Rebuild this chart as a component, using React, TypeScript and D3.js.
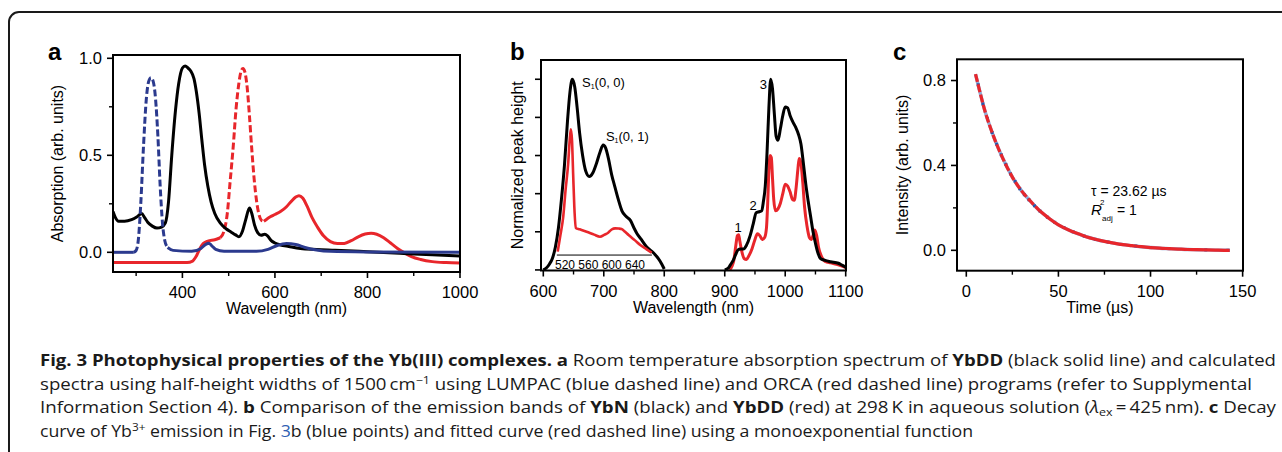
import React from 'react';
import * as d3 from 'd3';

type P = [number, number];

// ---------- Panel a : absorption ----------
const aXMajor = [400, 600, 800, 1000];
const aXMinor = [300, 500, 700, 900];
const aYMajor = [0, 0.5, 1.0];
const aYMinor = [0.25, 0.75];

const ybddAbs: P[] = [
  [250, 0.21], [255, 0.18], [262, 0.16], [275, 0.16], [290, 0.168], [303, 0.185], [312, 0.2], [318, 0.18],
  [325, 0.155], [335, 0.135], [345, 0.125], [355, 0.13], [363, 0.15], [370, 0.26], [377, 0.5], [385, 0.73],
  [392, 0.87], [400, 0.95], [406, 0.96], [412, 0.95], [418, 0.935], [425, 0.895], [430, 0.83], [436, 0.72],
  [442, 0.58], [448, 0.45], [455, 0.34], [462, 0.26], [470, 0.2], [482, 0.15], [495, 0.12], [505, 0.105],
  [515, 0.09], [522, 0.08], [530, 0.11], [537, 0.17], [545, 0.228], [550, 0.2], [556, 0.14], [563, 0.1],
  [570, 0.088], [578, 0.093], [584, 0.085], [592, 0.06], [600, 0.048], [612, 0.038], [630, 0.03], [655, 0.02],
  [690, 0.015], [730, 0.011], [800, 0.003], [870, -0.005], [940, -0.013], [1000, -0.019],
];
const lumpacAbs: P[] = [
  [250, 0], [295, 0], [300, 0.01], [305, 0.07], [310, 0.25], [316, 0.55], [322, 0.79], [327, 0.88], [332, 0.9],
  [337, 0.88], [342, 0.79], [347, 0.6], [352, 0.34], [357, 0.15], [362, 0.06], [368, 0.025], [380, 0.01],
  [420, 0.005], [440, 0.02], [450, 0.04], [457, 0.047], [463, 0.035], [472, 0.015], [490, 0.005], [560, 0.005],
  [585, 0.015], [605, 0.035], [625, 0.045], [645, 0.04], [665, 0.025], [690, 0.012], [720, 0.005], [800, 0.002],
  [1000, 0],
];
const lumpacDashed: P = [298, 368];
const orcaAbs: P[] = [
  [250, -0.052], [410, -0.052], [422, -0.045], [430, -0.02], [438, 0.02], [445, 0.045], [455, 0.058], [470, 0.065],
  [482, 0.075], [490, 0.11], [497, 0.2], [503, 0.36], [510, 0.55], [516, 0.74], [522, 0.87], [527, 0.935],
  [531, 0.948], [535, 0.93], [540, 0.85], [545, 0.7], [550, 0.53], [555, 0.38], [560, 0.27], [565, 0.2],
  [571, 0.165], [576, 0.16], [583, 0.172], [590, 0.183], [600, 0.195], [612, 0.21], [625, 0.235], [635, 0.262],
  [645, 0.285], [652, 0.292], [660, 0.28], [670, 0.235], [680, 0.18], [692, 0.13], [705, 0.085], [720, 0.055],
  [735, 0.045], [750, 0.046], [765, 0.06], [780, 0.08], [795, 0.094], [808, 0.098], [820, 0.093], [835, 0.075],
  [850, 0.048], [865, 0.02], [880, -0.003], [895, -0.022], [915, -0.037], [940, -0.048], [970, -0.053],
  [1000, -0.055],
];
const orcaDashed: P = [488, 572];

// ---------- Panel b : emission ----------
const bXMajor = [600, 700, 800, 900, 1000, 1100];
const bXMinor = [650, 750, 850, 950, 1050];
const bYMajor = [0, 0.2, 0.4, 0.6, 0.8, 1.0];
const ybnEmisVis: P[] = [
  [600, 0], [605, 0.01], [610, 0.03], [615, 0.06], [620, 0.12], [625, 0.22], [630, 0.37], [635, 0.55],
  [640, 0.78], [644, 0.93], [648, 1.0], [652, 0.96], [656, 0.85], [660, 0.72], [665, 0.6], [670, 0.52],
  [676, 0.49], [682, 0.51], [688, 0.56], [694, 0.62], [699, 0.655], [703, 0.64], [708, 0.58], [713, 0.5],
  [718, 0.44], [724, 0.37], [730, 0.31], [737, 0.28], [744, 0.26], [750, 0.22], [755, 0.19], [762, 0.16],
  [771, 0.12], [782, 0.09], [790, 0.06], [796, 0.03], [800, 0.005],
];
const ybnEmisNir: P[] = [
  [900, 0], [906, 0.01], [910, 0.03], [914, 0.05], [918, 0.08], [922, 0.105], [926, 0.11], [931, 0.11],
  [936, 0.13], [942, 0.18], [947, 0.24], [952, 0.3], [957, 0.305], [961, 0.31], [964, 0.36], [967, 0.44],
  [970, 0.62], [973, 0.85], [976, 1.0], [979, 0.95], [982, 0.82], [985, 0.7], [988, 0.68], [992, 0.74],
  [996, 0.81], [1000, 0.855], [1004, 0.85], [1008, 0.81], [1012, 0.78], [1017, 0.75], [1022, 0.71],
  [1026, 0.66], [1030, 0.56], [1034, 0.45], [1038, 0.36], [1042, 0.28], [1046, 0.2], [1050, 0.14],
  [1054, 0.09], [1058, 0.061], [1066, 0.05], [1075, 0.043], [1088, 0.035], [1094, 0.025], [1100, 0.015],
];
const ybddEmisNir: P[] = [
  [908, 0], [912, 0.02], [915, 0.05], [918, 0.12], [921, 0.18], [923, 0.185], [925, 0.15], [928, 0.1],
  [932, 0.06], [936, 0.055], [940, 0.075], [945, 0.11], [950, 0.16], [954, 0.19], [958, 0.18], [962, 0.16],
  [966, 0.17], [969, 0.22], [971, 0.35], [973, 0.52], [975, 0.6], [977, 0.59], [979, 0.48], [981, 0.37],
  [984, 0.31], [988, 0.32], [992, 0.35], [996, 0.4], [1000, 0.45], [1004, 0.44], [1008, 0.41], [1012, 0.37],
  [1015, 0.365], [1018, 0.43], [1021, 0.53], [1023, 0.585], [1026, 0.56], [1029, 0.46], [1032, 0.33],
  [1036, 0.23], [1040, 0.17], [1043, 0.16], [1046, 0.18], [1049, 0.21], [1052, 0.18], [1055, 0.12],
  [1060, 0.07], [1066, 0.045], [1075, 0.037], [1085, 0.03], [1094, 0.02], [1100, 0.012],
];
// inset (own wavelength axis 520–640 nm)
const insetXTicks = [520, 560, 600, 640];
const insetAxisLevel = 0.078;
const ybddEmisVis: P[] = [
  [507.5, 0.096], [512, 0.18], [517, 0.28], [521, 0.42], [525.5, 0.56], [528, 0.68], [530, 0.737], [532, 0.68],
  [534, 0.5], [536, 0.33], [538.5, 0.22], [545, 0.213], [557, 0.2], [570, 0.185], [580, 0.174], [588, 0.185],
  [594, 0.195], [600, 0.212], [606, 0.218], [612, 0.217], [617, 0.215], [623, 0.2], [629, 0.183], [640, 0.155],
  [649, 0.131], [660, 0.108], [668.6, 0.09],
];
const bPeakLabels: { x: number; y: number; t: string }[] = [
  { x: 922, y: 0.2, t: '1' },
  { x: 947, y: 0.315, t: '2' },
  { x: 964, y: 0.95, t: '3' },
];
const bBandLabels: { x: number; y: number; t: string }[] = [
  { x: 664, y: 0.96, t: '(0, 0)' },
  { x: 703.5, y: 0.675, t: '(0, 1)' },
];

// ---------- Panel c : decay ----------
const cXMajor = [0, 50, 100, 150];
const cXMinor = [25, 75, 125];
const cYMajor = [0, 0.4, 0.8];
const cYMinor = [0.2, 0.6];
const decayFit: P[] = [
  [5, 0.83], [7, 0.76], [10, 0.66], [13, 0.58], [16, 0.51], [20, 0.43], [25, 0.345], [30, 0.28], [35, 0.23],
  [40, 0.185], [45, 0.15], [50, 0.12], [55, 0.098], [60, 0.08], [65, 0.064], [70, 0.052], [75, 0.042],
  [80, 0.034], [85, 0.027], [90, 0.022], [95, 0.017], [100, 0.013], [105, 0.01], [110, 0.008], [115, 0.006],
  [120, 0.004], [125, 0.003], [130, 0.002], [135, 0.001], [140, 0.0], [143, 0.0],
];
const decayPoints: P[] = [
  [6.5, 0.78], [9, 0.69], [11.5, 0.62], [14, 0.555], [16.5, 0.5], [19, 0.45], [21.5, 0.405], [24, 0.36],
  [26.5, 0.325], [29, 0.29], [31.5, 0.262], [34, 0.238], [37, 0.21], [40, 0.185], [44, 0.156], [48, 0.132],
  [53, 0.107], [58, 0.087], [64, 0.067], [70, 0.052], [77, 0.039], [84, 0.028], [92, 0.02], [100, 0.013],
  [110, 0.008], [120, 0.004], [130, 0.002], [142, 0.0],
];
const fitDashedUntil = 40;
const tauText = 'τ = 23.62 µs';

// ---------- caption ----------
type Seg = { t: string; b?: boolean; sup?: boolean; sub?: boolean; i?: boolean; color?: string };
const captionLines: Seg[][] = [
  [
    { t: 'Fig. 3 Photophysical properties of the Yb(III) complexes.', b: true },
    { t: ' ' }, { t: 'a', b: true },
    { t: ' Room temperature absorption spectrum of ' }, { t: 'YbDD', b: true },
    { t: ' (black solid line) and calculated' },
  ],
  [
    { t: 'spectra using half-height widths of 1500\u2009cm' }, { t: '\u22121', sup: true },
    { t: ' using LUMPAC (blue dashed line) and ORCA (red dashed line) programs (refer to Supplymental' },
  ],
  [
    { t: 'Information Section 4). ' }, { t: 'b', b: true },
    { t: ' Comparison of the emission bands of ' }, { t: 'YbN', b: true },
    { t: ' (black) and ' }, { t: 'YbDD', b: true },
    { t: ' (red) at 298\u2009K in aqueous solution (' }, { t: 'λ', i: true }, { t: 'ex', sub: true },
    { t: '\u2009=\u2009425\u2009nm). ' }, { t: 'c', b: true }, { t: ' Decay' },
  ],
  [
    { t: 'curve of Yb' }, { t: '3+', sup: true }, { t: ' emission in Fig. ' },
    { t: '3', color: '#2f5fb3' },
    { t: 'b (blue points) and fitted curve (red dashed line) using a monoexponential function' },
  ],
];
const captionWidths = [1236, 1212, 1236, 933];

// ---------- styles ----------
const FONT = "'Liberation Sans', Arial, Helvetica, sans-serif";
const RED = '#e8262b';
const NAVY = '#2b3a8e';
const BLUE = '#2a55a8';

function split(d: P[], lo: number, hi: number) {
  let i0 = 0;
  d.forEach((p, i) => { if (p[0] <= lo) i0 = i; });
  let i1 = d.length - 1;
  for (let i = d.length - 1; i >= 0; i--) if (d[i][0] >= hi) i1 = i;
  return { before: d.slice(0, i0 + 1), mid: d.slice(i0, i1 + 1), after: d.slice(i1) };
}

type Lin = d3.ScaleLinear<number, number>;

function Frame(props: {
  x: Lin; y: Lin; xMajor: number[]; xMinor: number[]; yMajor: number[]; yMinor: number[];
  xFmt: (v: number) => string; yFmt?: (v: number) => string; xTitle: string; yTitle: string; yTitleX: number; letter: string; letterX: number;
}) {
  const { x, y } = props;
  const [x0, x1] = x.range();
  const [y0, y1] = y.range();
  const cy = (y0 + y1) / 2;
  return (
    <g fontFamily={FONT}>
      <rect x={x0} y={y1} width={x1 - x0} height={y0 - y1} fill="none" stroke="#000" strokeWidth={2} />
      {props.xMajor.map((v) => (
        <g key={'xm' + v}>
          <line x1={x(v)} x2={x(v)} y1={y0} y2={y0 + 6} stroke="#000" strokeWidth={1.6} />
          <text x={x(v)} y={y0 + 26} fontSize={16.5} textAnchor="middle">{props.xFmt(v)}</text>
        </g>
      ))}
      {props.xMinor.map((v) => (
        <line key={'xn' + v} x1={x(v)} x2={x(v)} y1={y0} y2={y0 + 4} stroke="#000" strokeWidth={1.4} />
      ))}
      {props.yMajor.map((v) => (
        <g key={'ym' + v}>
          <line x1={x0} x2={x0 - 6} y1={y(v)} y2={y(v)} stroke="#000" strokeWidth={1.6} />
          {props.yFmt && (
            <text x={x0 - 11} y={y(v)} dy="0.36em" fontSize={16.5} textAnchor="end">{props.yFmt(v)}</text>
          )}
        </g>
      ))}
      {props.yMinor.map((v) => (
        <line key={'yn' + v} x1={x0} x2={x0 - 4} y1={y(v)} y2={y(v)} stroke="#000" strokeWidth={1.4} />
      ))}
      <text x={(x0 + x1) / 2} y={y0 + 42} fontSize={16} textAnchor="middle">{props.xTitle}</text>
      <text transform={`translate(${props.yTitleX},${cy}) rotate(-90)`} dy="0.36em" fontSize={16} textAnchor="middle">
        {props.yTitle}
      </text>
      <text x={props.letterX} y={60} fontSize={24} fontWeight="bold">{props.letter}</text>
    </g>
  );
}

export default function App() {
  // scales
  const ax = d3.scaleLinear().domain([250, 1000]).range([113, 460]);
  const ay = d3.scaleLinear().domain([-0.1015, 1.017]).range([272, 55]);
  const bx = d3.scaleLinear().domain([596.2, 1100.5]).range([541, 846]);
  const by = d3.scaleLinear().domain([-0.003, 1.101]).range([270.5, 60]);
  const ix = d3.scaleLinear().domain([520, 640]).range([565, 635]);
  const cx = d3.scaleLinear().domain([-5.05, 150.2]).range([957, 1243]);
  const cyS = d3.scaleLinear().domain([-0.096, 0.9]).range([270.7, 59.3]);

  const lineA = d3.line<P>().x((d) => ax(d[0])).y((d) => ay(d[1])).curve(d3.curveMonotoneX);
  const lineB = d3.line<P>().x((d) => bx(d[0])).y((d) => by(d[1])).curve(d3.curveMonotoneX);
  const lineI = d3.line<P>().x((d) => ix(d[0])).y((d) => by(d[1])).curve(d3.curveMonotoneX);
  const lineC = d3.line<P>().x((d) => cx(d[0])).y((d) => cyS(d[1])).curve(d3.curveMonotoneX);

  const lum = split(lumpacAbs, lumpacDashed[0], lumpacDashed[1]);
  const orc = split(orcaAbs, orcaDashed[0], orcaDashed[1]);
  const fitA = decayFit.filter((p) => p[0] <= fitDashedUntil);
  const fitB = decayFit.filter((p) => p[0] >= fitDashedUntil);

  const clipA = 'clipA';
  return (
    <svg width={1282} height={452} style={{ position: 'absolute', left: 0, top: 0, display: 'block', background: '#fff' }}>
      <defs>
        <clipPath id={clipA}>
          <rect x={113} y={55} width={347} height={217} />
        </clipPath>
      </defs>
      <rect x={9} y={12} width={1400} height={600} rx={10} fill="#fff" stroke="#1a1a1a" strokeWidth={2} />

      {/* Panel a */}
      <g clipPath={`url(#${clipA})`} fill="none" strokeWidth={3} strokeLinejoin="round">
        <path d={lineA(orc.before) || ''} stroke={RED} />
        <path d={lineA(orc.after) || ''} stroke={RED} />
        <path d={lineA(orc.mid) || ''} stroke={RED} strokeDasharray="7 3" />
        <path d={lineA(ybddAbs) || ''} stroke="#000" />
        <path d={lineA(lum.before) || ''} stroke={NAVY} />
        <path d={lineA(lum.after) || ''} stroke={NAVY} />
        <path d={lineA(lum.mid) || ''} stroke={NAVY} strokeDasharray="7 3" />
      </g>
      <Frame x={ax} y={ay} xMajor={aXMajor} xMinor={aXMinor} yMajor={aYMajor} yMinor={aYMinor}
        xFmt={(v) => String(v)} yFmt={(v) => v.toFixed(1)} xTitle="Wavelength (nm)" yTitle="Absorption (arb. units)"
        yTitleX={57} letter="a" letterX={48} />

      {/* Panel b */}
      <g fill="none" strokeLinejoin="round">
        <path d={lineB(ybnEmisVis) || ''} stroke="#000" strokeWidth={3} />
        <path d={lineB(ybddEmisNir) || ''} stroke={RED} strokeWidth={3} />
        <path d={lineB(ybnEmisNir) || ''} stroke="#000" strokeWidth={3} />
        <path d={lineI(ybddEmisVis) || ''} stroke={RED} strokeWidth={2.6} />
        <line x1={ix(506)} x2={ix(669)} y1={by(insetAxisLevel)} y2={by(insetAxisLevel)} stroke="#000" strokeWidth={1} />
      </g>
      <g fontFamily={FONT} fontSize={12}>
        {insetXTicks.map((v) => (
          <text key={v} x={ix(v)} y={by(insetAxisLevel) + 14} textAnchor="middle">{v}</text>
        ))}
        {bBandLabels.map((l) => (
          <text key={l.t} x={bx(l.x)} y={by(l.y)} fontSize={13}>
            S<tspan fontSize={7} dy={2}>1</tspan><tspan dy={-2}>{l.t}</tspan>
          </text>
        ))}
        {bPeakLabels.map((l) => (
          <text key={l.t} x={bx(l.x)} y={by(l.y)} fontSize={13} textAnchor="middle">{l.t}</text>
        ))}
      </g>
      <Frame x={bx} y={by} xMajor={bXMajor} xMinor={bXMinor} yMajor={bYMajor} yMinor={[]}
        xFmt={(v) => String(v)} xTitle="Wavelength (nm)" yTitle="Normalized peak height"
        yTitleX={517} letter="b" letterX={510} />

      {/* Panel c */}
      <g>
        {decayPoints.map((p, i) => (
          <rect key={i} x={cx(p[0]) - 1.5} y={cyS(p[1]) - 1.5} width={3} height={3} fill={BLUE} />
        ))}
        <path d={lineC(decayFit) || ''} fill="none" stroke={BLUE} strokeWidth={3.4} opacity={0.5} />
        <path d={lineC(fitA) || ''} fill="none" stroke={RED} strokeWidth={3.2} strokeDasharray="8 2.5" />
        <path d={lineC(fitB) || ''} fill="none" stroke={RED} strokeWidth={3.2} />
      </g>
      <g fontFamily={FONT} fontSize={14}>
        <text x={1091} y={196}>{tauText}</text>
        <text x={1091} y={215} fontStyle="italic" fontSize={15}>R</text>
        <text x={1100} y={205} fontSize={8}>2</text>
        <text x={1102} y={221} fontSize={8}>adj</text>
        <text x={1117} y={215}>= 1</text>
      </g>
      <Frame x={cx} y={cyS} xMajor={cXMajor} xMinor={cXMinor} yMajor={cYMajor} yMinor={cYMinor}
        xFmt={(v) => String(v)} yFmt={(v) => v.toFixed(1)} xTitle="Time (µs)" yTitle="Intensity (arb. units)"
        yTitleX={902} letter="c" letterX={893} />

      {/* Caption */}
      <g fontFamily="'Open Sans', 'Noto Sans', sans-serif" fontSize={16.5} fill="#1a1a1a">
        {captionLines.map((line, li) => (
          <text key={li} x={40} y={366 + li * 23.5} textLength={captionWidths[li]} lengthAdjust="spacingAndGlyphs"
            style={{ whiteSpace: 'pre' }}>
            {line.map((s, si) => (
              <tspan key={si} fontWeight={s.b ? 'bold' : undefined} fontStyle={s.i ? 'italic' : undefined}
                fill={s.color} fontSize={s.sup || s.sub ? 11 : undefined}
                baselineShift={s.sup ? '6' : s.sub ? '-3' : undefined}>
                {s.t}
              </tspan>
            ))}
          </text>
        ))}
      </g>
    </svg>
  );
}
